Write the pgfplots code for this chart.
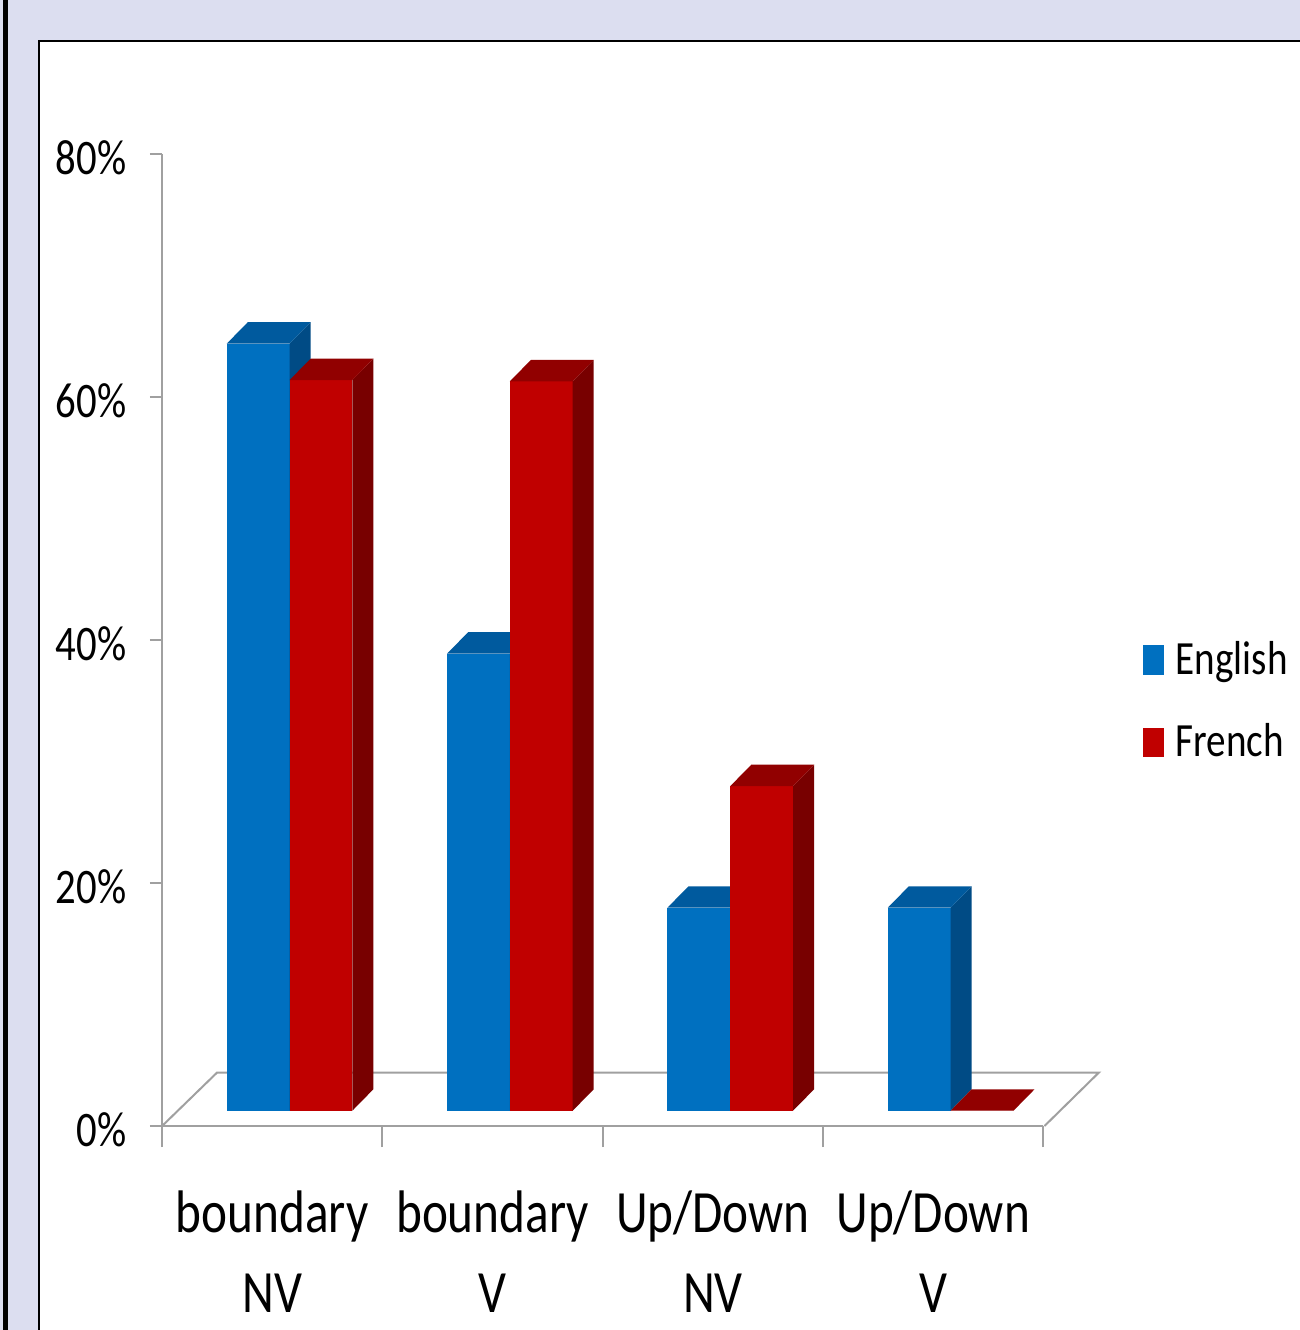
\documentclass[border=0pt]{standalone}
\usepackage{pgfplots}
\pgfplotsset{compat=1.18}
\usepackage{fontspec}
\setmainfont{Carlito}[FakeStretch=0.82]
\usetikzlibrary{backgrounds}
\definecolor{engfront}{HTML}{0070C0}
\definecolor{engside}{HTML}{004B85}
\definecolor{engtop}{HTML}{005A9E}
\definecolor{frfront}{HTML}{C00000}
\definecolor{frside}{HTML}{780000}
\definecolor{frtop}{HTML}{910000}
\definecolor{axisgray}{RGB}{160,160,160}
\definecolor{lav}{RGB}{220,222,240}
\def\bw{0.285}
\def\bdx{0.0953}
\def\bdy{1.76}
\def\bbase{1.26}
% #1 category index, #2 offset of bar, #3 value (%), #4 front, #5 side, #6 top colour
\newcommand{\cube}[6]{%
  \pgfmathsetmacro\xa{#1+#2}%
  \pgfmathsetmacro\xb{#1+#2+\bw}%
  \pgfmathsetmacro\xc{#1+#2+\bdx}%
  \pgfmathsetmacro\xd{#1+#2+\bw+\bdx}%
  \pgfmathsetmacro\ya{\bbase}%
  \pgfmathsetmacro\yb{\bbase+#3}%
  \pgfmathsetmacro\yc{\bbase+\bdy}%
  \pgfmathsetmacro\yd{\bbase+#3+\bdy}%
  \edef\doplot{%
    \noexpand\addplot[fill=#4, draw=none, forget plot] coordinates {(\xa,\ya) (\xb,\ya) (\xb,\yb) (\xa,\yb)} -- cycle;%
    \noexpand\addplot[fill=#5, draw=none, forget plot] coordinates {(\xb,\ya) (\xd,\yc) (\xd,\yd) (\xb,\yb)} -- cycle;%
    \noexpand\addplot[fill=#6, draw=none, forget plot] coordinates {(\xa,\yb) (\xb,\yb) (\xd,\yd) (\xc,\yd)} -- cycle;%
  }\doplot
}
\begin{document}
\begin{tikzpicture}
\begin{axis}[
  x=66.075pt, y=3.645pt,
  xmin=-0.5, xmax=3.5, ymin=0, ymax=80,
  clip=false,
  axis x line*=bottom, axis y line*=left,
  axis line style={axisgray, line width=0.6pt},
  tick align=outside,
  xtick={0,1,2,3},
  xticklabels={{boundary\\NV},{boundary\\V},{Up/Down\\NV},{Up/Down\\V}},
  minor xtick={-0.5,0.5,1.5,2.5,3.5},
  major x tick style={draw=none},
  minor x tick style={axisgray, line width=0.6pt},
  minor tick length=6.3pt,
  major tick length=3.6pt,
  ytick={0,20,40,60,80},
  yticklabels={0\%,20\%,40\%,60\%,80\%},
  ytick style={axisgray, line width=0.6pt},
  x tick label style={align=center, font=\fontsize{18}{24}\selectfont, inner sep=0pt, yshift=-15.6pt},
  y tick label style={font=\fontsize{14.9}{17}\selectfont, inner sep=0pt, xshift=-6.9pt, yshift=-1.2pt},
  legend cell align=left,
  legend style={at={(axis cs:3.95,34.93)}, anchor=west, draw=none, fill=none, inner sep=0pt,
    font=\fontsize{14.3}{17}\selectfont, row sep=13.3pt,
    nodes={inner sep=0pt},
    /tikz/every odd column/.append style={column sep=3.5pt}},
  legend image code/.code={\fill[#1] (0pt,-4.4pt) rectangle (6.3pt,4.4pt);},
]
% floor
\addplot[axisgray, line width=0.6pt, forget plot] coordinates {(-0.4994,0) (-0.2497,4.40) (3.752,4.40) (3.505,0)};
% English: 63.1, 37.6, 16.7, 16.7 ; French: 60.1, 60, 26.7, 0
\cube{0}{-0.206}{63.1}{engfront}{engside}{engtop}
\cube{0}{0.079}{60.1}{frfront}{frside}{frtop}
\cube{1}{-0.206}{37.6}{engfront}{engside}{engtop}
\cube{1}{0.079}{60}{frfront}{frside}{frtop}
\cube{2}{-0.206}{16.7}{engfront}{engside}{engtop}
\cube{2}{0.079}{26.7}{frfront}{frside}{frtop}
\cube{3}{-0.206}{16.7}{engfront}{engside}{engtop}
\cube{3}{0.079}{0}{frfront}{frside}{frtop}
\addlegendimage{fill=engfront, draw=none}
\addlegendentry{English}
\addlegendimage{fill=frfront, draw=none}
\addlegendentry{French}
\coordinate (imgtl) at (axis cs:-1.2350,92.629);
\coordinate (imgbr) at (axis cs:4.6629,-16.782);
\coordinate (frtl) at (axis cs:-1.0579,89.256);
\coordinate (frbl) at (axis cs:-1.0579,-16.782);
\coordinate (frtr) at (axis cs:4.6629,89.256);
\coordinate (lbl) at (axis cs:-1.2200,-16.782);
\coordinate (lbr) at (axis cs:-1.1973,92.629);
\end{axis}
\begin{pgfonlayer}{background}
  \fill[lav] (imgtl) rectangle (imgbr);
  \fill[white] (frtl) rectangle (imgbr);
  \fill[black] (lbl) rectangle (lbr);
  \draw[black, line width=0.6pt] (frbl) -- (frtl) -- (frtr);
\end{pgfonlayer}
\pgfresetboundingbox
\path[use as bounding box] (imgtl) rectangle (imgbr);
\end{tikzpicture}
\end{document}
